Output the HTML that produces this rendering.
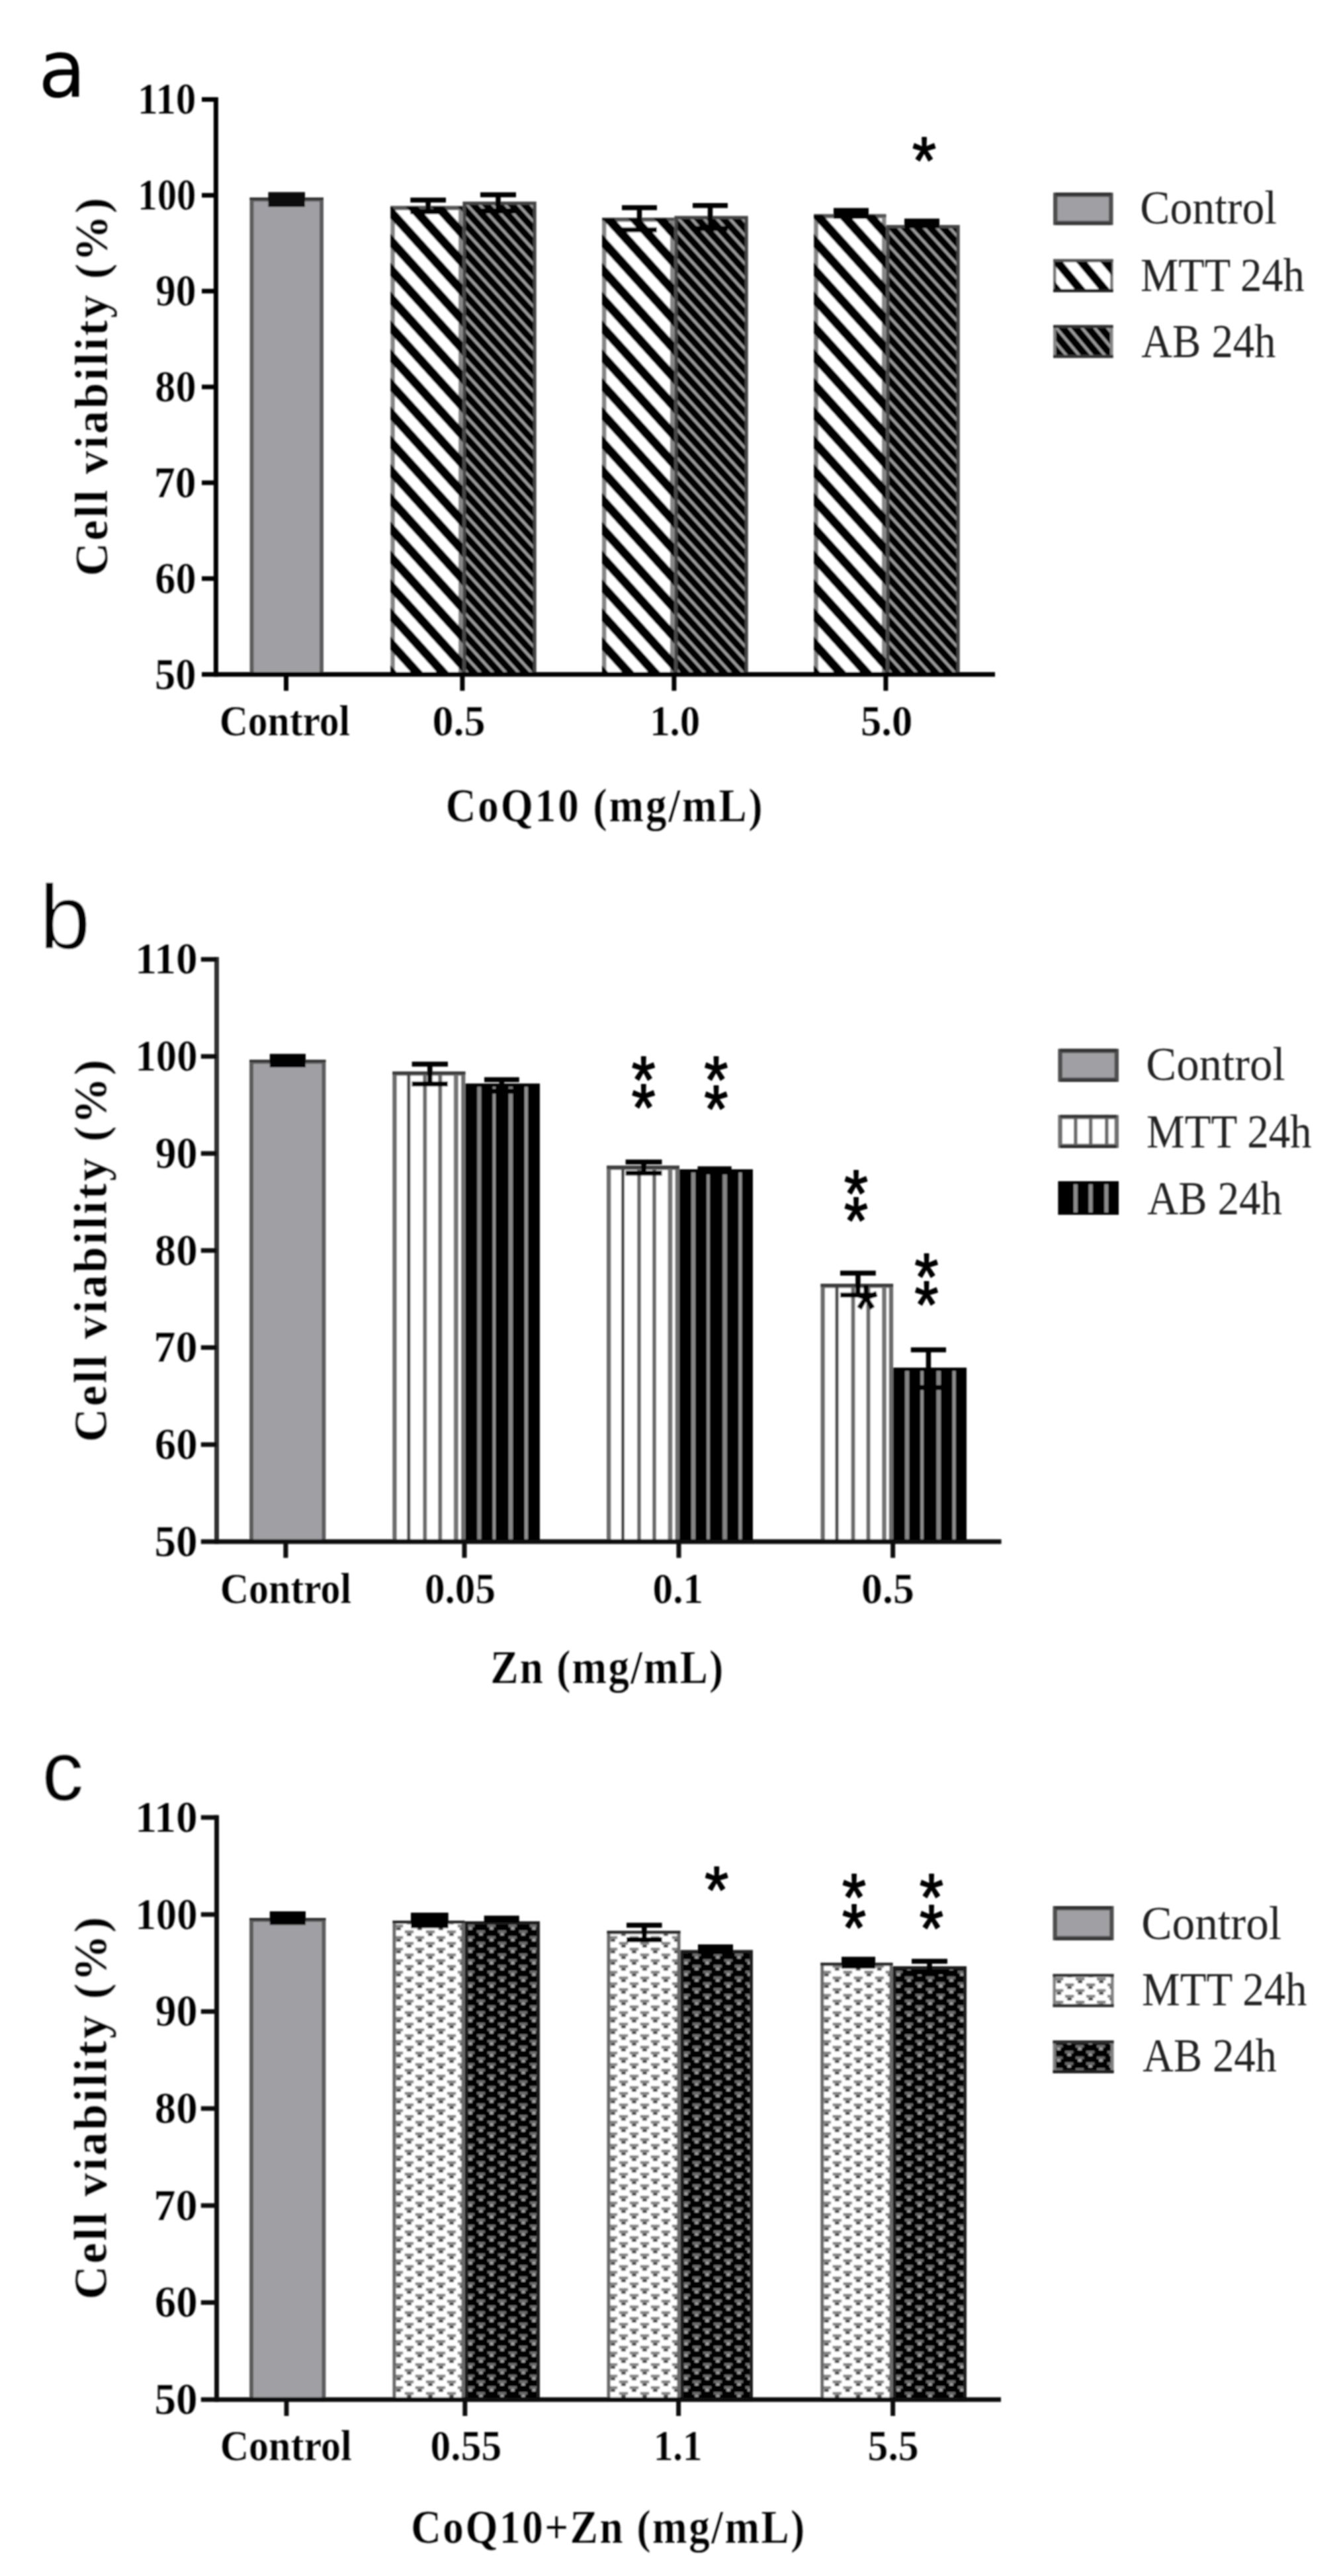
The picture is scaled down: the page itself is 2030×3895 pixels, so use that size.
<!DOCTYPE html>
<html><head><meta charset="utf-8"><title>Cell viability</title>
<style>
html,body{margin:0;padding:0;background:#fff;}
svg{display:block;}
</style></head><body>
<svg width="2030" height="3895" viewBox="0 0 2030 3895">
<defs><filter id="soft" x="0" y="0" width="2030" height="3895" filterUnits="userSpaceOnUse"><feGaussianBlur stdDeviation="1.1"/></filter><pattern id="p1" patternUnits="userSpaceOnUse" width="39.3" height="20" patternTransform="translate(604.80,413.90) skewX(42.1)"><rect x="21.70" y="0" width="18.4" height="20" fill="#000"/><rect x="0" y="0" width="0.8" height="20" fill="#000"/></pattern><pattern id="p2" patternUnits="userSpaceOnUse" width="19.35" height="20" patternTransform="translate(700.50,500.00) skewX(42.1)"><rect x="0" y="0" width="19.35" height="20" fill="#000"/><rect x="0.5" y="0" width="5.6" height="20" fill="#9c9c9c"/></pattern><pattern id="p3" patternUnits="userSpaceOnUse" width="39.3" height="20" patternTransform="translate(924.40,413.90) skewX(42.1)"><rect x="21.70" y="0" width="18.4" height="20" fill="#000"/><rect x="0" y="0" width="0.8" height="20" fill="#000"/></pattern><pattern id="p4" patternUnits="userSpaceOnUse" width="19.35" height="20" patternTransform="translate(1020.50,500.00) skewX(42.1)"><rect x="0" y="0" width="19.35" height="20" fill="#000"/><rect x="0.5" y="0" width="5.6" height="20" fill="#9c9c9c"/></pattern><pattern id="p5" patternUnits="userSpaceOnUse" width="39.3" height="20" patternTransform="translate(1244.70,413.90) skewX(42.1)"><rect x="21.70" y="0" width="18.4" height="20" fill="#000"/><rect x="0" y="0" width="0.8" height="20" fill="#000"/></pattern><pattern id="p6" patternUnits="userSpaceOnUse" width="19.35" height="20" patternTransform="translate(1340.50,500.00) skewX(42.1)"><rect x="0" y="0" width="19.35" height="20" fill="#000"/><rect x="0.5" y="0" width="5.6" height="20" fill="#9c9c9c"/></pattern><pattern id="p7" patternUnits="userSpaceOnUse" width="36.6" height="20" patternTransform="translate(1622.00,415.70) skewX(39.8)"><rect x="20.90" y="0" width="16.5" height="20" fill="#000"/><rect x="0" y="0" width="0.8" height="20" fill="#000"/></pattern><pattern id="p8" patternUnits="userSpaceOnUse" width="19.35" height="20" patternTransform="translate(1620.50,505.10) skewX(39.8)"><rect x="0" y="0" width="19.35" height="20" fill="#000"/><rect x="0.5" y="0" width="5.6" height="20" fill="#9c9c9c"/></pattern><pattern id="p9" patternUnits="userSpaceOnUse" width="32" height="17.45" patternTransform="translate(611.70,2918.70)"><rect x="0" y="0" width="32" height="17.45" fill="#fff"/><path d="M0,0h13.5v4.3h-13.5zM16,8.7h13.5v4.3h-13.5z" fill="#858585"/><path d="M0,0m3.4,4.3h6.7v4.2h-6.7zM16,8.7m3.4,4.3h6.7v4.2h-6.7z" fill="#404040"/></pattern><pattern id="p10" patternUnits="userSpaceOnUse" width="32" height="17.45" patternTransform="translate(720.70,2918.70)"><rect x="0" y="0" width="32" height="17.45" fill="#000"/><path d="M0,0h12.5v4h-12.5zM16,8.7h12.5v4h-12.5z" fill="#6c6c6c"/><path d="M0,0m3.4,4h5.7v4h-5.7zM16,8.7m3.4,4h5.7v4h-5.7z" fill="#a4a4a4"/></pattern><pattern id="p11" patternUnits="userSpaceOnUse" width="32" height="17.45" patternTransform="translate(935.70,2918.70)"><rect x="0" y="0" width="32" height="17.45" fill="#fff"/><path d="M0,0h13.5v4.3h-13.5zM16,8.7h13.5v4.3h-13.5z" fill="#858585"/><path d="M0,0m3.4,4.3h6.7v4.2h-6.7zM16,8.7m3.4,4.3h6.7v4.2h-6.7z" fill="#404040"/></pattern><pattern id="p12" patternUnits="userSpaceOnUse" width="32" height="17.45" patternTransform="translate(1046.70,2918.70)"><rect x="0" y="0" width="32" height="17.45" fill="#000"/><path d="M0,0h12.5v4h-12.5zM16,8.7h12.5v4h-12.5z" fill="#6c6c6c"/><path d="M0,0m3.4,4h5.7v4h-5.7zM16,8.7m3.4,4h5.7v4h-5.7z" fill="#a4a4a4"/></pattern><pattern id="p13" patternUnits="userSpaceOnUse" width="32" height="17.45" patternTransform="translate(1258.50,2918.70)"><rect x="0" y="0" width="32" height="17.45" fill="#fff"/><path d="M0,0h13.5v4.3h-13.5zM16,8.7h13.5v4.3h-13.5z" fill="#858585"/><path d="M0,0m3.4,4.3h6.7v4.2h-6.7zM16,8.7m3.4,4.3h6.7v4.2h-6.7z" fill="#404040"/></pattern><pattern id="p14" patternUnits="userSpaceOnUse" width="32" height="17.45" patternTransform="translate(1367.70,2918.70)"><rect x="0" y="0" width="32" height="17.45" fill="#000"/><path d="M0,0h12.5v4h-12.5zM16,8.7h12.5v4h-12.5z" fill="#6c6c6c"/><path d="M0,0m3.4,4h5.7v4h-5.7zM16,8.7m3.4,4h5.7v4h-5.7z" fill="#a4a4a4"/></pattern><pattern id="p15" patternUnits="userSpaceOnUse" width="32" height="17.45" patternTransform="translate(1609.85,2998.80)"><rect x="0" y="0" width="32" height="17.45" fill="#fff"/><path d="M0,0h13.5v4.3h-13.5zM16,8.7h13.5v4.3h-13.5z" fill="#858585"/><path d="M0,0m3.4,4.3h6.7v4.2h-6.7zM16,8.7m3.4,4.3h6.7v4.2h-6.7z" fill="#404040"/></pattern><pattern id="p16" patternUnits="userSpaceOnUse" width="32" height="17.45" patternTransform="translate(1609.85,3100.80)"><rect x="0" y="0" width="32" height="17.45" fill="#000"/><path d="M0,0h12.5v4h-12.5zM16,8.7h12.5v4h-12.5z" fill="#6c6c6c"/><path d="M0,0m3.4,4h5.7v4h-5.7zM16,8.7m3.4,4h5.7v4h-5.7z" fill="#a4a4a4"/></pattern></defs>
<rect x="0" y="0" width="2030" height="3895" fill="#fff"/>
<g filter="url(#soft)">
<rect x="380.50" y="301.70" width="105.50" height="718.00" fill="#a0a0a4" stroke="#5c5c5c" stroke-width="6" />
<line x1="377.50" y1="300.50" x2="489.00" y2="300.50" stroke="#2e2e2e" stroke-width="3.6"/>
<rect x="593.65" y="314.75" width="102.50" height="704.70" fill="#fff" stroke="#858585" stroke-width="6.5" />
<line x1="590.40" y1="314.00" x2="699.40" y2="314.00" stroke="#555" stroke-width="5"/>
<rect x="590.40" y="312.50" width="109.00" height="710.20" fill="url(#p1)" />
<rect x="701.90" y="307.30" width="106.30" height="712.90" fill="url(#p2)" stroke="#444" stroke-width="5" />
<rect x="913.25" y="332.25" width="102.90" height="687.20" fill="#fff" stroke="#858585" stroke-width="6.5" />
<line x1="910.00" y1="331.50" x2="1019.40" y2="331.50" stroke="#555" stroke-width="5"/>
<rect x="910.00" y="330.00" width="109.40" height="692.70" fill="url(#p3)" />
<rect x="1021.90" y="329.00" width="106.30" height="691.20" fill="url(#p4)" stroke="#444" stroke-width="5" />
<rect x="1233.55" y="327.05" width="102.60" height="692.40" fill="#fff" stroke="#858585" stroke-width="6.5" />
<line x1="1230.30" y1="326.30" x2="1339.40" y2="326.30" stroke="#555" stroke-width="5"/>
<rect x="1230.30" y="324.80" width="109.10" height="697.90" fill="url(#p5)" />
<rect x="1341.90" y="342.70" width="106.30" height="677.50" fill="url(#p6)" stroke="#444" stroke-width="5" />
<rect x="405.50" y="290.50" width="55.50" height="22.30" fill="#0c0c0c" />
<line x1="620.30" y1="302.50" x2="674.00" y2="302.50" stroke="#000" stroke-width="7.5"/>
<line x1="620.30" y1="320.00" x2="674.00" y2="320.00" stroke="#000" stroke-width="7.5"/>
<line x1="647.15" y1="302.50" x2="647.15" y2="320.00" stroke="#000" stroke-width="7.5"/>
<line x1="726.00" y1="294.50" x2="780.00" y2="294.50" stroke="#000" stroke-width="7.5"/>
<line x1="726.00" y1="319.00" x2="780.00" y2="319.00" stroke="#000" stroke-width="7.5"/>
<line x1="753.00" y1="294.50" x2="753.00" y2="319.00" stroke="#000" stroke-width="7.5"/>
<line x1="940.00" y1="314.00" x2="993.00" y2="314.00" stroke="#000" stroke-width="7.5"/>
<line x1="940.00" y1="347.50" x2="993.00" y2="347.50" stroke="#000" stroke-width="7.5"/>
<line x1="966.50" y1="314.00" x2="966.50" y2="347.50" stroke="#000" stroke-width="7.5"/>
<line x1="1047.00" y1="310.70" x2="1100.00" y2="310.70" stroke="#000" stroke-width="7.5"/>
<line x1="1047.00" y1="345.50" x2="1100.00" y2="345.50" stroke="#000" stroke-width="7.5"/>
<line x1="1073.50" y1="310.70" x2="1073.50" y2="345.50" stroke="#000" stroke-width="7.5"/>
<rect x="1260.00" y="314.50" width="53.00" height="16.50" fill="#000" />
<rect x="1367.00" y="330.50" width="53.00" height="14.50" fill="#000" />
<line x1="326.40" y1="146.90" x2="326.40" y2="1023.20" stroke="#000" stroke-width="7"/>
<line x1="305.00" y1="1019.70" x2="1504.00" y2="1019.70" stroke="#000" stroke-width="7"/>
<line x1="305.00" y1="150.40" x2="326.40" y2="150.40" stroke="#000" stroke-width="7"/>
<text transform="translate(208.11,172.48) scale(0.6113,0.6741)" font-family='"Liberation Serif", serif' font-weight="bold" font-size="100" fill="#000" stroke="#fff" stroke-width="0.8" stroke-opacity="0.4">110</text>
<line x1="305.00" y1="295.28" x2="326.40" y2="295.28" stroke="#000" stroke-width="7"/>
<text transform="translate(208.30,317.36) scale(0.5870,0.6741)" font-family='"Liberation Serif", serif' font-weight="bold" font-size="100" fill="#000" stroke="#fff" stroke-width="0.8" stroke-opacity="0.4">100</text>
<line x1="305.00" y1="440.17" x2="326.40" y2="440.17" stroke="#000" stroke-width="7"/>
<text transform="translate(234.96,462.24) scale(0.6150,0.6741)" font-family='"Liberation Serif", serif' font-weight="bold" font-size="100" fill="#000" stroke="#fff" stroke-width="0.8" stroke-opacity="0.4">90</text>
<line x1="305.00" y1="585.05" x2="326.40" y2="585.05" stroke="#000" stroke-width="7"/>
<text transform="translate(234.32,607.13) scale(0.6216,0.6741)" font-family='"Liberation Serif", serif' font-weight="bold" font-size="100" fill="#000" stroke="#fff" stroke-width="0.8" stroke-opacity="0.4">80</text>
<line x1="305.00" y1="729.93" x2="326.40" y2="729.93" stroke="#000" stroke-width="7"/>
<text transform="translate(233.01,752.01) scale(0.6354,0.6741)" font-family='"Liberation Serif", serif' font-weight="bold" font-size="100" fill="#000" stroke="#fff" stroke-width="0.8" stroke-opacity="0.4">70</text>
<line x1="305.00" y1="874.82" x2="326.40" y2="874.82" stroke="#000" stroke-width="7"/>
<text transform="translate(234.32,896.89) scale(0.6216,0.6741)" font-family='"Liberation Serif", serif' font-weight="bold" font-size="100" fill="#000" stroke="#fff" stroke-width="0.8" stroke-opacity="0.4">60</text>
<text transform="translate(234.00,1041.78) scale(0.6250,0.6741)" font-family='"Liberation Serif", serif' font-weight="bold" font-size="100" fill="#000" stroke="#fff" stroke-width="0.8" stroke-opacity="0.4">50</text>
<line x1="432.50" y1="1019.70" x2="432.50" y2="1044.50" stroke="#000" stroke-width="7"/>
<line x1="698.90" y1="1019.70" x2="698.90" y2="1044.50" stroke="#000" stroke-width="7"/>
<line x1="1018.90" y1="1019.70" x2="1018.90" y2="1044.50" stroke="#000" stroke-width="7"/>
<line x1="1338.90" y1="1019.70" x2="1338.90" y2="1044.50" stroke="#000" stroke-width="7"/>
<text transform="translate(161.80,871.19) rotate(-90) scale(0.6985,0.6985)" font-family='"Liberation Serif", serif' font-weight="bold" font-size="100" fill="#000" letter-spacing="4.728" stroke="#fff" stroke-width="0.8" stroke-opacity="0.4">Cell viability (%)</text>
<text transform="translate(331.72,1112.34) scale(0.5957,0.6642)" font-family='"Liberation Serif", serif' font-weight="bold" font-size="100" fill="#000" stroke="#fff" stroke-width="0.8" stroke-opacity="0.4">Control</text>
<text transform="translate(653.43,1112.34) scale(0.6426,0.6642)" font-family='"Liberation Serif", serif' font-weight="bold" font-size="100" fill="#000" stroke="#fff" stroke-width="0.8" stroke-opacity="0.4">0.5</text>
<text transform="translate(982.13,1112.34) scale(0.6088,0.6642)" font-family='"Liberation Serif", serif' font-weight="bold" font-size="100" fill="#000" stroke="#fff" stroke-width="0.8" stroke-opacity="0.4">1.0</text>
<text transform="translate(1300.99,1112.34) scale(0.6265,0.6642)" font-family='"Liberation Serif", serif' font-weight="bold" font-size="100" fill="#000" stroke="#fff" stroke-width="0.8" stroke-opacity="0.4">5.0</text>
<text transform="translate(673.85,1241.78) scale(0.6298,0.7239)" font-family='"Liberation Serif", serif' font-weight="bold" font-size="100" fill="#000" letter-spacing="4.797" stroke="#fff" stroke-width="0.8" stroke-opacity="0.4">CoQ10 (mg/mL)</text>
<rect x="1595.25" y="294.55" width="84.00" height="42.50" fill="#a0a0a4" stroke="#505050" stroke-width="6.5" />
<line x1="1595.00" y1="293.50" x2="1679.50" y2="293.50" stroke="#333" stroke-width="4.4"/>
<line x1="1595.00" y1="338.10" x2="1679.50" y2="338.10" stroke="#383838" stroke-width="4.4"/>
<rect x="1594.25" y="394.05" width="86.00" height="45.50" fill="#fff" stroke="#777" stroke-width="4.5" />
<line x1="1592.00" y1="394.00" x2="1682.50" y2="394.00" stroke="#555" stroke-width="4.5"/>
<line x1="1592.00" y1="439.60" x2="1682.50" y2="439.60" stroke="#222" stroke-width="4.5"/>
<rect x="1594.00" y="395.80" width="86.50" height="42.00" fill="url(#p7)" />
<rect x="1594.25" y="493.75" width="86.00" height="45.20" fill="url(#p8)" stroke="#858585" stroke-width="4.5" />
<line x1="1592.00" y1="493.70" x2="1682.50" y2="493.70" stroke="#333" stroke-width="4.5"/>
<line x1="1592.00" y1="539.00" x2="1682.50" y2="539.00" stroke="#333" stroke-width="4.5"/>
<text transform="translate(1723.29,338.28) scale(0.6767,0.7164)" font-family='"Liberation Serif", serif' font-weight="normal" font-size="100" fill="#222" >Control</text>
<text transform="translate(1724.07,440.08) scale(0.6447,0.7164)" font-family='"Liberation Serif", serif' font-weight="normal" font-size="100" fill="#222" >MTT 24h</text>
<text transform="translate(1725.35,539.78) scale(0.6469,0.7164)" font-family='"Liberation Serif", serif' font-weight="normal" font-size="100" fill="#222" >AB 24h</text>
<text transform="translate(1379.02,276.79) scale(0.9222,1.0057)" font-family='"Liberation Sans", sans-serif' font-weight="normal" font-size="100" fill="#000" stroke="#000" stroke-width="2" stroke-linejoin="round">*</text>
<text transform="translate(57.96,146.20) scale(1.1739,1.2000)" font-family='"DejaVu Sans", "Liberation Sans", sans-serif' font-weight="normal" font-size="100" fill="#000" >a</text>
<rect x="380.00" y="1605.50" width="109.40" height="725.50" fill="#a0a0a4" stroke="#5c5c5c" stroke-width="6" />
<line x1="377.00" y1="1604.30" x2="492.40" y2="1604.30" stroke="#2e2e2e" stroke-width="3.6"/>
<rect x="596.55" y="1623.25" width="103.60" height="707.50" fill="#fff" stroke="#6c6c6c" stroke-width="6.5" />
<line x1="593.30" y1="1622.50" x2="703.40" y2="1622.50" stroke="#3c3c3c" stroke-width="5"/>
<line x1="617.80" y1="1625.00" x2="617.80" y2="2334.00" stroke="#4a4a4a" stroke-width="5"/>
<line x1="642.30" y1="1625.00" x2="642.30" y2="2334.00" stroke="#6a6a6a" stroke-width="6"/>
<line x1="665.30" y1="1625.00" x2="665.30" y2="2334.00" stroke="#6a6a6a" stroke-width="6"/>
<line x1="689.30" y1="1625.00" x2="689.30" y2="2334.00" stroke="#747474" stroke-width="7"/>
<rect x="703.40" y="1638.30" width="112.60" height="695.70" fill="#000" />
<line x1="724.40" y1="1643.30" x2="724.40" y2="2334.00" stroke="#858585" stroke-width="6"/>
<line x1="746.90" y1="1643.30" x2="746.90" y2="2334.00" stroke="#909090" stroke-width="4.5"/>
<line x1="772.00" y1="1643.30" x2="772.00" y2="2334.00" stroke="#858585" stroke-width="6.5"/>
<line x1="795.40" y1="1643.30" x2="795.40" y2="2334.00" stroke="#909090" stroke-width="5"/>
<rect x="920.25" y="1765.85" width="103.50" height="564.90" fill="#fff" stroke="#6c6c6c" stroke-width="6.5" />
<line x1="917.00" y1="1765.10" x2="1027.00" y2="1765.10" stroke="#3c3c3c" stroke-width="5"/>
<line x1="941.50" y1="1767.60" x2="941.50" y2="2334.00" stroke="#4a4a4a" stroke-width="5"/>
<line x1="966.00" y1="1767.60" x2="966.00" y2="2334.00" stroke="#6a6a6a" stroke-width="6"/>
<line x1="989.00" y1="1767.60" x2="989.00" y2="2334.00" stroke="#6a6a6a" stroke-width="6"/>
<line x1="1013.00" y1="1767.60" x2="1013.00" y2="2334.00" stroke="#747474" stroke-width="7"/>
<rect x="1027.00" y="1768.00" width="111.00" height="566.00" fill="#000" />
<line x1="1048.00" y1="1773.00" x2="1048.00" y2="2334.00" stroke="#858585" stroke-width="6"/>
<line x1="1070.50" y1="1773.00" x2="1070.50" y2="2334.00" stroke="#909090" stroke-width="4.5"/>
<line x1="1095.60" y1="1773.00" x2="1095.60" y2="2334.00" stroke="#858585" stroke-width="6.5"/>
<line x1="1119.00" y1="1773.00" x2="1119.00" y2="2334.00" stroke="#909090" stroke-width="5"/>
<rect x="1243.75" y="1944.25" width="103.10" height="386.50" fill="#fff" stroke="#6c6c6c" stroke-width="6.5" />
<line x1="1240.50" y1="1943.50" x2="1350.10" y2="1943.50" stroke="#3c3c3c" stroke-width="5"/>
<line x1="1265.00" y1="1946.00" x2="1265.00" y2="2334.00" stroke="#4a4a4a" stroke-width="5"/>
<line x1="1289.50" y1="1946.00" x2="1289.50" y2="2334.00" stroke="#6a6a6a" stroke-width="6"/>
<line x1="1312.50" y1="1946.00" x2="1312.50" y2="2334.00" stroke="#6a6a6a" stroke-width="6"/>
<line x1="1336.50" y1="1946.00" x2="1336.50" y2="2334.00" stroke="#747474" stroke-width="7"/>
<rect x="1350.10" y="2067.90" width="110.90" height="266.10" fill="#000" />
<line x1="1371.10" y1="2072.90" x2="1371.10" y2="2334.00" stroke="#858585" stroke-width="6"/>
<line x1="1393.60" y1="2072.90" x2="1393.60" y2="2334.00" stroke="#909090" stroke-width="4.5"/>
<line x1="1418.70" y1="2072.90" x2="1418.70" y2="2334.00" stroke="#858585" stroke-width="6.5"/>
<line x1="1442.10" y1="2072.90" x2="1442.10" y2="2334.00" stroke="#909090" stroke-width="5"/>
<rect x="407.80" y="1593.50" width="54.20" height="20.50" fill="#000" />
<line x1="622.60" y1="1609.00" x2="677.00" y2="1609.00" stroke="#000" stroke-width="7.5"/>
<line x1="622.60" y1="1639.00" x2="677.00" y2="1639.00" stroke="#000" stroke-width="7.5"/>
<line x1="649.80" y1="1609.00" x2="649.80" y2="1639.00" stroke="#000" stroke-width="7.5"/>
<line x1="732.00" y1="1632.50" x2="784.80" y2="1632.50" stroke="#000" stroke-width="7.5"/>
<line x1="732.00" y1="1650.00" x2="784.80" y2="1650.00" stroke="#000" stroke-width="7.5"/>
<line x1="758.40" y1="1632.50" x2="758.40" y2="1650.00" stroke="#000" stroke-width="7.5"/>
<line x1="945.60" y1="1757.00" x2="1000.50" y2="1757.00" stroke="#000" stroke-width="7.5"/>
<line x1="945.60" y1="1773.70" x2="1000.50" y2="1773.70" stroke="#000" stroke-width="7.5"/>
<line x1="973.05" y1="1757.00" x2="973.05" y2="1773.70" stroke="#000" stroke-width="7.5"/>
<rect x="1054.50" y="1763.50" width="51.20" height="12.50" fill="#000" />
<line x1="1270.00" y1="1925.00" x2="1323.80" y2="1925.00" stroke="#000" stroke-width="7.5"/>
<line x1="1270.00" y1="1958.30" x2="1323.80" y2="1958.30" stroke="#000" stroke-width="7.5"/>
<line x1="1296.90" y1="1925.00" x2="1296.90" y2="1958.30" stroke="#000" stroke-width="7.5"/>
<line x1="1376.80" y1="2041.00" x2="1430.00" y2="2041.00" stroke="#000" stroke-width="7.5"/>
<line x1="1376.80" y1="2098.00" x2="1430.00" y2="2098.00" stroke="#000" stroke-width="7.5"/>
<line x1="1403.40" y1="2041.00" x2="1403.40" y2="2098.00" stroke="#000" stroke-width="7.5"/>
<line x1="327.50" y1="1447.10" x2="327.50" y2="2334.50" stroke="#303030" stroke-width="7"/>
<line x1="303.80" y1="2331.00" x2="1513.50" y2="2331.00" stroke="#0a0a0a" stroke-width="7"/>
<line x1="303.80" y1="1450.60" x2="327.50" y2="1450.60" stroke="#0a0a0a" stroke-width="7"/>
<text transform="translate(204.28,1472.43) scale(0.6528,0.6667)" font-family='"Liberation Serif", serif' font-weight="bold" font-size="100" fill="#000" stroke="#fff" stroke-width="0.8" stroke-opacity="0.4">110</text>
<line x1="303.80" y1="1597.33" x2="327.50" y2="1597.33" stroke="#0a0a0a" stroke-width="7"/>
<text transform="translate(204.49,1619.17) scale(0.6268,0.6667)" font-family='"Liberation Serif", serif' font-weight="bold" font-size="100" fill="#000" stroke="#fff" stroke-width="0.8" stroke-opacity="0.4">100</text>
<line x1="303.80" y1="1744.07" x2="327.50" y2="1744.07" stroke="#0a0a0a" stroke-width="7"/>
<text transform="translate(234.40,1765.90) scale(0.6417,0.6667)" font-family='"Liberation Serif", serif' font-weight="bold" font-size="100" fill="#000" stroke="#fff" stroke-width="0.8" stroke-opacity="0.4">90</text>
<line x1="303.80" y1="1890.80" x2="327.50" y2="1890.80" stroke="#0a0a0a" stroke-width="7"/>
<text transform="translate(233.73,1912.63) scale(0.6486,0.6667)" font-family='"Liberation Serif", serif' font-weight="bold" font-size="100" fill="#000" stroke="#fff" stroke-width="0.8" stroke-opacity="0.4">80</text>
<line x1="303.80" y1="2037.53" x2="327.50" y2="2037.53" stroke="#0a0a0a" stroke-width="7"/>
<text transform="translate(232.35,2059.37) scale(0.6630,0.6667)" font-family='"Liberation Serif", serif' font-weight="bold" font-size="100" fill="#000" stroke="#fff" stroke-width="0.8" stroke-opacity="0.4">70</text>
<line x1="303.80" y1="2184.27" x2="327.50" y2="2184.27" stroke="#0a0a0a" stroke-width="7"/>
<text transform="translate(233.73,2206.10) scale(0.6486,0.6667)" font-family='"Liberation Serif", serif' font-weight="bold" font-size="100" fill="#000" stroke="#fff" stroke-width="0.8" stroke-opacity="0.4">60</text>
<text transform="translate(233.39,2352.83) scale(0.6522,0.6667)" font-family='"Liberation Serif", serif' font-weight="bold" font-size="100" fill="#000" stroke="#fff" stroke-width="0.8" stroke-opacity="0.4">50</text>
<line x1="431.90" y1="2331.00" x2="431.90" y2="2355.50" stroke="#0a0a0a" stroke-width="7"/>
<line x1="702.00" y1="2331.00" x2="702.00" y2="2355.50" stroke="#0a0a0a" stroke-width="7"/>
<line x1="1026.00" y1="2331.00" x2="1026.00" y2="2355.50" stroke="#0a0a0a" stroke-width="7"/>
<line x1="1349.60" y1="2331.00" x2="1349.60" y2="2355.50" stroke="#0a0a0a" stroke-width="7"/>
<text transform="translate(160.30,2180.41) rotate(-90) scale(0.7015,0.7015)" font-family='"Liberation Serif", serif' font-weight="bold" font-size="100" fill="#000" letter-spacing="5.020" stroke="#fff" stroke-width="0.8" stroke-opacity="0.4">Cell viability (%)</text>
<text transform="translate(332.71,2423.84) scale(0.5988,0.6642)" font-family='"Liberation Serif", serif' font-weight="bold" font-size="100" fill="#000" stroke="#fff" stroke-width="0.8" stroke-opacity="0.4">Control</text>
<text transform="translate(642.06,2423.84) scale(0.6107,0.6642)" font-family='"Liberation Serif", serif' font-weight="bold" font-size="100" fill="#000" stroke="#fff" stroke-width="0.8" stroke-opacity="0.4">0.05</text>
<text transform="translate(986.55,2423.84) scale(0.6121,0.6642)" font-family='"Liberation Serif", serif' font-weight="bold" font-size="100" fill="#000" stroke="#fff" stroke-width="0.8" stroke-opacity="0.4">0.1</text>
<text transform="translate(1302.05,2423.84) scale(0.6383,0.6642)" font-family='"Liberation Serif", serif' font-weight="bold" font-size="100" fill="#000" stroke="#fff" stroke-width="0.8" stroke-opacity="0.4">0.5</text>
<text transform="translate(741.47,2545.28) scale(0.6298,0.7239)" font-family='"Liberation Serif", serif' font-weight="bold" font-size="100" fill="#000" letter-spacing="3.729" stroke="#fff" stroke-width="0.8" stroke-opacity="0.4">Zn (mg/mL)</text>
<rect x="1602.55" y="1589.05" width="85.20" height="43.50" fill="#a0a0a4" stroke="#505050" stroke-width="6.5" />
<line x1="1602.30" y1="1588.00" x2="1688.00" y2="1588.00" stroke="#333" stroke-width="4.4"/>
<line x1="1602.30" y1="1633.60" x2="1688.00" y2="1633.60" stroke="#383838" stroke-width="4.4"/>
<rect x="1602.55" y="1689.05" width="85.20" height="43.50" fill="#fff" stroke="#707070" stroke-width="6.5" />
<line x1="1625.80" y1="1685.80" x2="1625.80" y2="1735.80" stroke="#6a6a6a" stroke-width="5.5"/>
<line x1="1648.60" y1="1685.80" x2="1648.60" y2="1735.80" stroke="#6a6a6a" stroke-width="5.5"/>
<line x1="1672.80" y1="1685.80" x2="1672.80" y2="1735.80" stroke="#6a6a6a" stroke-width="5.5"/>
<line x1="1602.30" y1="1688.00" x2="1688.00" y2="1688.00" stroke="#333" stroke-width="4.4"/>
<line x1="1602.30" y1="1733.60" x2="1688.00" y2="1733.60" stroke="#2a2a2a" stroke-width="4.4"/>
<rect x="1601.80" y="1788.50" width="86.70" height="45.80" fill="#000" stroke="#000" stroke-width="5" />
<line x1="1625.80" y1="1790.60" x2="1625.80" y2="1833.00" stroke="#8c8c8c" stroke-width="6"/>
<line x1="1648.60" y1="1790.60" x2="1648.60" y2="1833.00" stroke="#8c8c8c" stroke-width="6"/>
<line x1="1672.30" y1="1790.60" x2="1672.30" y2="1833.00" stroke="#8c8c8c" stroke-width="6"/>
<text transform="translate(1732.25,1633.08) scale(0.6883,0.7164)" font-family='"Liberation Serif", serif' font-weight="normal" font-size="100" fill="#222" >Control</text>
<text transform="translate(1733.05,1734.58) scale(0.6495,0.7164)" font-family='"Liberation Serif", serif' font-weight="normal" font-size="100" fill="#222" >MTT 24h</text>
<text transform="translate(1734.35,1836.08) scale(0.6485,0.7164)" font-family='"Liberation Serif", serif' font-weight="normal" font-size="100" fill="#222" >AB 24h</text>
<text transform="translate(954.82,1666.79) scale(0.9222,1.0057)" font-family='"Liberation Sans", sans-serif' font-weight="normal" font-size="100" fill="#000" stroke="#000" stroke-width="2" stroke-linejoin="round">*</text>
<text transform="translate(954.82,1708.79) scale(0.9222,1.0057)" font-family='"Liberation Sans", sans-serif' font-weight="normal" font-size="100" fill="#000" stroke="#000" stroke-width="2" stroke-linejoin="round">*</text>
<text transform="translate(1064.42,1667.29) scale(0.9222,1.0057)" font-family='"Liberation Sans", sans-serif' font-weight="normal" font-size="100" fill="#000" stroke="#000" stroke-width="2" stroke-linejoin="round">*</text>
<text transform="translate(1064.42,1711.29) scale(0.9222,1.0057)" font-family='"Liberation Sans", sans-serif' font-weight="normal" font-size="100" fill="#000" stroke="#000" stroke-width="2" stroke-linejoin="round">*</text>
<text transform="translate(1276.02,1838.79) scale(0.9222,1.0057)" font-family='"Liberation Sans", sans-serif' font-weight="normal" font-size="100" fill="#000" stroke="#000" stroke-width="2" stroke-linejoin="round">*</text>
<text transform="translate(1276.02,1880.49) scale(0.9222,1.0057)" font-family='"Liberation Sans", sans-serif' font-weight="normal" font-size="100" fill="#000" stroke="#000" stroke-width="2" stroke-linejoin="round">*</text>
<text transform="translate(1382.62,1965.39) scale(0.9222,1.0057)" font-family='"Liberation Sans", sans-serif' font-weight="normal" font-size="100" fill="#000" stroke="#000" stroke-width="2" stroke-linejoin="round">*</text>
<text transform="translate(1382.62,2006.79) scale(0.9222,1.0057)" font-family='"Liberation Sans", sans-serif' font-weight="normal" font-size="100" fill="#000" stroke="#000" stroke-width="2" stroke-linejoin="round">*</text>
<text transform="translate(1291.02,2012.79) scale(0.9222,1.0057)" font-family='"Liberation Sans", sans-serif' font-weight="normal" font-size="100" fill="#000" stroke="#000" stroke-width="2" stroke-linejoin="round">*</text>
<text transform="translate(59.21,1435.12) scale(1.3978,1.3837)" font-family='"Liberation Sans", sans-serif' font-weight="normal" font-size="100" fill="#000" stroke="#fff" stroke-width="1.1">b</text>
<rect x="380.00" y="2903.00" width="109.40" height="725.20" fill="#a0a0a4" stroke="#5c5c5c" stroke-width="6" />
<line x1="377.00" y1="2901.80" x2="492.40" y2="2901.80" stroke="#2e2e2e" stroke-width="3.6"/>
<rect x="596.00" y="2906.50" width="104.00" height="722.20" fill="url(#p9)" stroke="#686868" stroke-width="5" />
<line x1="593.50" y1="2906.00" x2="702.50" y2="2906.00" stroke="#262626" stroke-width="4"/>
<rect x="705.00" y="2907.50" width="108.50" height="721.20" fill="url(#p10)" stroke="#1a1a1a" stroke-width="5" />
<rect x="920.00" y="2922.10" width="106.00" height="706.60" fill="url(#p11)" stroke="#686868" stroke-width="5" />
<line x1="917.50" y1="2921.60" x2="1028.50" y2="2921.60" stroke="#262626" stroke-width="4"/>
<rect x="1031.00" y="2951.00" width="104.50" height="677.70" fill="url(#p12)" stroke="#1a1a1a" stroke-width="5" />
<rect x="1242.80" y="2970.20" width="104.20" height="658.50" fill="url(#p13)" stroke="#686868" stroke-width="5" />
<line x1="1240.30" y1="2969.70" x2="1349.50" y2="2969.70" stroke="#262626" stroke-width="4"/>
<rect x="1352.00" y="2975.50" width="106.50" height="653.20" fill="url(#p14)" stroke="#1a1a1a" stroke-width="5" />
<rect x="407.80" y="2890.00" width="54.20" height="20.50" fill="#000" />
<rect x="621.00" y="2892.00" width="56.70" height="23.40" fill="#000" />
<rect x="731.70" y="2896.50" width="53.10" height="10.50" fill="#000" />
<line x1="947.00" y1="2911.00" x2="1000.60" y2="2911.00" stroke="#000" stroke-width="7.5"/>
<line x1="947.00" y1="2933.00" x2="1000.60" y2="2933.00" stroke="#000" stroke-width="7.5"/>
<line x1="973.80" y1="2911.00" x2="973.80" y2="2933.00" stroke="#000" stroke-width="7.5"/>
<rect x="1055.00" y="2940.00" width="53.00" height="15.00" fill="#000" />
<rect x="1272.00" y="2958.70" width="51.00" height="17.90" fill="#000" />
<line x1="1378.00" y1="2965.40" x2="1432.00" y2="2965.40" stroke="#000" stroke-width="7.5"/>
<line x1="1378.00" y1="2982.00" x2="1432.00" y2="2982.00" stroke="#000" stroke-width="7.5"/>
<line x1="1405.00" y1="2965.40" x2="1405.00" y2="2982.00" stroke="#000" stroke-width="7.5"/>
<line x1="327.50" y1="2744.60" x2="327.50" y2="3631.70" stroke="#111" stroke-width="7"/>
<line x1="303.80" y1="3628.20" x2="1513.00" y2="3628.20" stroke="#111" stroke-width="7"/>
<line x1="303.80" y1="2748.10" x2="327.50" y2="2748.10" stroke="#111" stroke-width="7"/>
<text transform="translate(204.28,2769.93) scale(0.6528,0.6667)" font-family='"Liberation Serif", serif' font-weight="bold" font-size="100" fill="#000" stroke="#fff" stroke-width="0.8" stroke-opacity="0.4">110</text>
<line x1="303.80" y1="2894.78" x2="327.50" y2="2894.78" stroke="#111" stroke-width="7"/>
<text transform="translate(204.49,2916.62) scale(0.6268,0.6667)" font-family='"Liberation Serif", serif' font-weight="bold" font-size="100" fill="#000" stroke="#fff" stroke-width="0.8" stroke-opacity="0.4">100</text>
<line x1="303.80" y1="3041.47" x2="327.50" y2="3041.47" stroke="#111" stroke-width="7"/>
<text transform="translate(234.40,3063.30) scale(0.6417,0.6667)" font-family='"Liberation Serif", serif' font-weight="bold" font-size="100" fill="#000" stroke="#fff" stroke-width="0.8" stroke-opacity="0.4">90</text>
<line x1="303.80" y1="3188.15" x2="327.50" y2="3188.15" stroke="#111" stroke-width="7"/>
<text transform="translate(233.73,3209.98) scale(0.6486,0.6667)" font-family='"Liberation Serif", serif' font-weight="bold" font-size="100" fill="#000" stroke="#fff" stroke-width="0.8" stroke-opacity="0.4">80</text>
<line x1="303.80" y1="3334.83" x2="327.50" y2="3334.83" stroke="#111" stroke-width="7"/>
<text transform="translate(232.35,3356.67) scale(0.6630,0.6667)" font-family='"Liberation Serif", serif' font-weight="bold" font-size="100" fill="#000" stroke="#fff" stroke-width="0.8" stroke-opacity="0.4">70</text>
<line x1="303.80" y1="3481.52" x2="327.50" y2="3481.52" stroke="#111" stroke-width="7"/>
<text transform="translate(233.73,3503.35) scale(0.6486,0.6667)" font-family='"Liberation Serif", serif' font-weight="bold" font-size="100" fill="#000" stroke="#fff" stroke-width="0.8" stroke-opacity="0.4">60</text>
<text transform="translate(233.39,3650.03) scale(0.6522,0.6667)" font-family='"Liberation Serif", serif' font-weight="bold" font-size="100" fill="#000" stroke="#fff" stroke-width="0.8" stroke-opacity="0.4">50</text>
<line x1="433.00" y1="3628.20" x2="433.00" y2="3653.00" stroke="#111" stroke-width="7"/>
<line x1="702.80" y1="3628.20" x2="702.80" y2="3653.00" stroke="#111" stroke-width="7"/>
<line x1="1025.60" y1="3628.20" x2="1025.60" y2="3653.00" stroke="#111" stroke-width="7"/>
<line x1="1349.60" y1="3628.20" x2="1349.60" y2="3653.00" stroke="#111" stroke-width="7"/>
<text transform="translate(160.30,3476.81) rotate(-90) scale(0.7015,0.7015)" font-family='"Liberation Serif", serif' font-weight="bold" font-size="100" fill="#000" letter-spacing="5.020" stroke="#fff" stroke-width="0.8" stroke-opacity="0.4">Cell viability (%)</text>
<text transform="translate(332.70,3719.84) scale(0.6006,0.6642)" font-family='"Liberation Serif", serif' font-weight="bold" font-size="100" fill="#000" stroke="#fff" stroke-width="0.8" stroke-opacity="0.4">Control</text>
<text transform="translate(650.54,3719.84) scale(0.6149,0.6642)" font-family='"Liberation Serif", serif' font-weight="bold" font-size="100" fill="#000" stroke="#fff" stroke-width="0.8" stroke-opacity="0.4">0.55</text>
<text transform="translate(988.00,3719.84) scale(0.5875,0.6642)" font-family='"Liberation Serif", serif' font-weight="bold" font-size="100" fill="#000" stroke="#fff" stroke-width="0.8" stroke-opacity="0.4">1.1</text>
<text transform="translate(1311.53,3719.84) scale(0.6179,0.6642)" font-family='"Liberation Serif", serif' font-weight="bold" font-size="100" fill="#000" stroke="#fff" stroke-width="0.8" stroke-opacity="0.4">5.5</text>
<text transform="translate(621.15,3844.78) scale(0.6298,0.7239)" font-family='"Liberation Serif", serif' font-weight="bold" font-size="100" fill="#000" letter-spacing="4.205" stroke="#fff" stroke-width="0.8" stroke-opacity="0.4">CoQ10+Zn (mg/mL)</text>
<rect x="1594.75" y="2885.25" width="85.50" height="45.30" fill="#a0a0a4" stroke="#505050" stroke-width="6.5" />
<line x1="1594.50" y1="2884.20" x2="1680.50" y2="2884.20" stroke="#333" stroke-width="4.4"/>
<line x1="1594.50" y1="2931.60" x2="1680.50" y2="2931.60" stroke="#383838" stroke-width="4.4"/>
<rect x="1593.75" y="2986.95" width="87.50" height="45.60" fill="url(#p15)" stroke="#808080" stroke-width="4.5" />
<line x1="1591.50" y1="2986.90" x2="1683.50" y2="2986.90" stroke="#333" stroke-width="4.5"/>
<line x1="1591.50" y1="3032.60" x2="1683.50" y2="3032.60" stroke="#333" stroke-width="4.5"/>
<rect x="1593.75" y="3087.55" width="87.50" height="45.00" fill="url(#p16)" stroke="#808080" stroke-width="4.5" />
<line x1="1591.50" y1="3087.50" x2="1683.50" y2="3087.50" stroke="#2a2a2a" stroke-width="4.5"/>
<line x1="1591.50" y1="3132.60" x2="1683.50" y2="3132.60" stroke="#1a1a1a" stroke-width="4.5"/>
<text transform="translate(1725.23,2932.08) scale(0.6933,0.7164)" font-family='"Liberation Serif", serif' font-weight="normal" font-size="100" fill="#222" >Control</text>
<text transform="translate(1726.05,3032.28) scale(0.6495,0.7164)" font-family='"Liberation Serif", serif' font-weight="normal" font-size="100" fill="#222" >MTT 24h</text>
<text transform="translate(1727.35,3132.28) scale(0.6453,0.7164)" font-family='"Liberation Serif", serif' font-weight="normal" font-size="100" fill="#222" >AB 24h</text>
<text transform="translate(1065.32,2892.09) scale(0.9222,1.0057)" font-family='"Liberation Sans", sans-serif' font-weight="normal" font-size="100" fill="#000" stroke="#000" stroke-width="2" stroke-linejoin="round">*</text>
<text transform="translate(1273.02,2903.29) scale(0.9222,1.0057)" font-family='"Liberation Sans", sans-serif' font-weight="normal" font-size="100" fill="#000" stroke="#000" stroke-width="2" stroke-linejoin="round">*</text>
<text transform="translate(1273.02,2948.79) scale(0.9222,1.0057)" font-family='"Liberation Sans", sans-serif' font-weight="normal" font-size="100" fill="#000" stroke="#000" stroke-width="2" stroke-linejoin="round">*</text>
<text transform="translate(1390.02,2903.29) scale(0.9222,1.0057)" font-family='"Liberation Sans", sans-serif' font-weight="normal" font-size="100" fill="#000" stroke="#000" stroke-width="2" stroke-linejoin="round">*</text>
<text transform="translate(1390.02,2950.19) scale(0.9222,1.0057)" font-family='"Liberation Sans", sans-serif' font-weight="normal" font-size="100" fill="#000" stroke="#000" stroke-width="2" stroke-linejoin="round">*</text>
<text transform="translate(63.48,2722.01) scale(1.2552,1.2873)" font-family='"Liberation Sans", sans-serif' font-weight="normal" font-size="100" fill="#000" stroke="#fff" stroke-width="0.9" stroke-opacity="0.5">c</text>
</g>
</svg>
</body></html>
